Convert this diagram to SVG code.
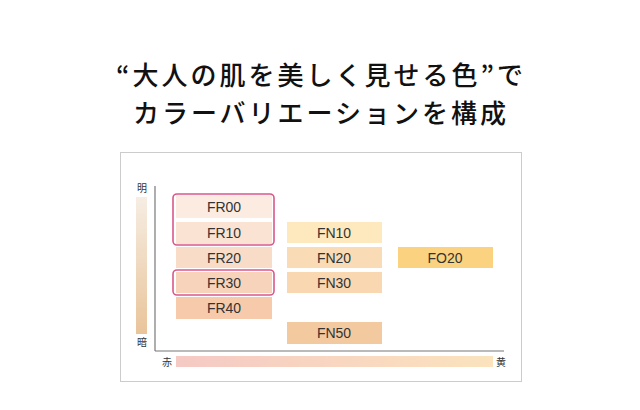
<svg xmlns="http://www.w3.org/2000/svg" width="640" height="410" viewBox="0 0 640 410">
<defs>
<style>
.t{font-family:"Noto Sans CJK JP","Noto Sans",sans-serif;fill:#111;font-size:26px;font-weight:500;text-anchor:middle}
.l{font-family:"Liberation Sans",Arial,sans-serif;font-size:14px;fill:#333;text-anchor:middle}
.s{font-family:"Noto Sans CJK JP",sans-serif;font-size:10px;fill:#333;text-anchor:middle}
.hl{fill:none;stroke:#d9578a;stroke-width:1.6}
</style>
<linearGradient id="gv" x1="0" y1="0" x2="0" y2="1"><stop offset="0" stop-color="#f6ede3"/><stop offset="1" stop-color="#e9c49a"/></linearGradient>
<linearGradient id="gh" x1="0" y1="0" x2="1" y2="0"><stop offset="0" stop-color="#f5c9c4"/><stop offset="1" stop-color="#fbe3bd"/></linearGradient>
</defs>
<rect width="640" height="410" fill="#fff"/>
<g id="title">
<text class="t" x="321" y="85" letter-spacing="3">“大人の肌を美しく見せる色”で</text>
<text class="t" x="321" y="123" letter-spacing="3">カラーバリエーションを構成</text>
</g>
<rect x="120.5" y="152.5" width="401" height="229" fill="#fff" stroke="#ccc"/>
<g id="axes">
<line x1="155" y1="186" x2="155" y2="351" stroke="#777" stroke-width="1.2"/>
<line x1="155" y1="351" x2="504" y2="351" stroke="#777" stroke-width="1.2"/>
<rect x="136" y="197" width="11" height="137" fill="url(#gv)"/>
<rect x="176" y="356" width="317" height="11" fill="url(#gh)"/>
<text class="s" x="142" y="192">明</text>
<text class="s" x="142" y="346">暗</text>
<text class="s" x="167" y="366">赤</text>
<text class="s" x="501" y="366">黄</text>
</g>
<g id="FR00"><rect x="176" y="195" width="96" height="23" fill="#fcebe0"/><text class="l" x="224" y="212">FR00</text></g>
<g id="FR10"><rect x="176" y="222" width="96" height="22" fill="#fbe3d4"/><text class="l" x="224" y="238">FR10</text></g>
<g id="FR20"><rect x="176" y="247" width="96" height="21" fill="#f9dcc7"/><text class="l" x="224" y="263">FR20</text></g>
<g id="FR30"><rect x="176" y="272" width="96" height="21" fill="#f8d3bb"/><text class="l" x="224" y="288">FR30</text></g>
<g id="FR40"><rect x="176" y="297" width="96" height="22" fill="#f6caaa"/><text class="l" x="224" y="313">FR40</text></g>
<g id="FN10"><rect x="287" y="222" width="95" height="21" fill="#fde9bd"/><text class="l" x="334" y="238">FN10</text></g>
<g id="FN20"><rect x="287" y="247" width="95" height="21" fill="#f9dbb5"/><text class="l" x="334" y="263">FN20</text></g>
<g id="FN30"><rect x="287" y="272" width="95" height="21" fill="#f8d7b1"/><text class="l" x="334" y="288">FN30</text></g>
<g id="FN50"><rect x="287" y="322" width="95" height="22" fill="#f3c9a0"/><text class="l" x="334" y="338">FN50</text></g>
<g id="FO20"><rect x="398" y="247" width="95" height="21" fill="#fbd27f"/><text class="l" x="445" y="263">FO20</text></g>
<g id="highlights">
<rect class="hl" x="173" y="194" width="101" height="51" rx="4"/>
<rect class="hl" x="173" y="270" width="101" height="25" rx="4"/>
</g>
</svg>
